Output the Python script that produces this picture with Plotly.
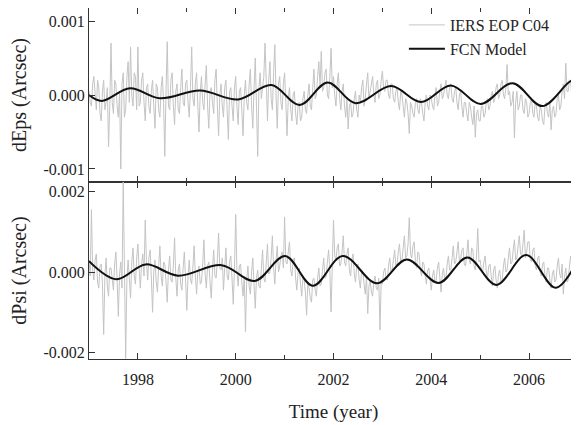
import numpy as np
import plotly.graph_objects as go
from plotly.subplots import make_subplots

# sampling of the observed series (years), 40 samples per year
obs_start = 1997.0
obs_step = 0.025

# IERS EOP C04 dEps, units of 1e-4 arcsec (one row per year)
eps_obs = [
    0.5, -1.0, -1.5, 1.5, 2.5, -0.5, -2.0, 2.0, 1.0, -2.5, -3.5, 0.5, 2.0, -2.0, -1.0, 1.0, -7.0, -1.5, 7.0, -1.0,
    -2.5, 2.0, 1.5, -1.5, -3.0, 0.5, -10.0, 1.5, 3.0, -3.0, -2.0, 2.5, 4.5, -1.0, 6.5, 0.0, -1.5, 3.0, 2.5, -2.0,
    6.5, -1.5, -1.0, 2.0, 3.0, -1.0, -3.5, 1.0, 1.5, -1.5, -2.5, 0.5, 2.0, -1.5, -4.5, 1.5, 1.0, -2.0, -3.0, 1.0,
    2.5, -1.0, -8.3, 0.5, 7.2, -1.5, -2.0, 2.0, 3.0, -1.5, -4.0, 0.5, 1.5, -2.0, -2.5, 1.0, 3.5, -1.0, -1.5, 1.5,
    2.0, -1.0, -3.0, 1.0, 6.5, -0.5, -1.5, 1.5, 3.0, -1.5, -5.0, 0.5, 2.5, -1.0, -2.0, 1.5, 4.0, -1.5, -4.5, 0.5,
    1.0, -1.0, -2.5, 2.0, 3.5, -1.5, -5.5, 0.0, 1.5, -1.5, -3.0, 1.0, 2.0, -2.0, -6.0, 0.5, 1.0, -1.5, -3.5, 1.0,
    2.5, -1.5, -4.0, 0.5, 1.0, -2.0, -5.5, 0.0, 2.0, -1.0, -2.0, 1.5, 3.5, -1.5, -4.5, 1.0, 5.0, -1.5, -8.3, 1.0,
    3.0, -0.5, 1.0, 2.5, 7.0, 0.5, -3.5, 2.0, 4.5, -0.5, -2.0, 3.0, 6.8, 0.0, -4.5, 1.5, 2.5, -1.0, -2.0, 1.5,
    3.0, -1.0, -5.5, -0.5, 1.0, -2.0, -3.5, 0.0, 0.5, -2.5, -4.0, -1.5, -1.0, -3.5, -3.0, -0.5, 0.5, -2.0, -2.5, 0.0,
    1.5, -1.5, -2.0, 1.0, 3.5, -0.5, 0.0, 2.5, 4.5, 1.0, 5.9, 0.5, 1.0, 3.0, 3.5, 0.0, -0.5, 2.5, 6.3, 1.0,
    2.5, 0.0, -1.5, 1.5, 3.0, -0.5, -2.0, 0.5, 1.5, -1.5, -3.0, -0.5, -4.6, -1.5, -1.0, -3.0, -2.5, -0.5, 0.5, -2.0,
    -3.0, 0.0, -1.0, 1.0, 2.0, -1.5, -0.5, 1.5, 3.0, -0.5, 0.5, 2.0, 2.5, 0.0, -1.0, 1.5, 2.0, -0.5, 0.0, 2.0,
    3.2, 1.0, 0.5, 2.0, 2.0, 0.0, -0.5, 1.5, 1.5, -0.5, -1.0, 0.5, 1.0, -1.0, -2.0, 0.5, 0.0, -1.5, -3.0, -0.5,
    -1.0, -2.5, -5.2, -1.0, -1.5, -2.5, -3.0, -1.0, -0.5, -2.0, -2.5, -0.5, -1.0, -2.5, -3.5, -1.0, 0.0, -1.5, -2.0, 0.0,
    -0.5, -1.5, -2.0, 0.0, 1.0, -1.5, -1.0, 0.5, 1.5, -0.5, 0.0, 1.0, 2.0, 0.0, -0.5, 1.0, 1.5, -0.5, -1.0, 0.5,
    1.0, -1.0, -2.0, 0.0, 0.5, -1.5, -3.0, -1.0, -1.0, -2.5, -3.5, -1.0, -1.5, -3.0, -4.0, -1.5, -5.7, -2.5, -2.0, -3.5,
    -3.5, -1.5, -1.5, -3.0, -2.5, -1.0, -0.5, -2.0, -1.5, 0.0, 0.5, -1.0, -0.5, 1.0, 1.5, -0.5, 0.0, 1.5, 2.0, 0.0,
    -0.5, 1.0, 4.1, 0.0, 0.5, -1.5, -1.0, 0.5, -5.8, -1.0, 0.5, -2.0, -1.5, 0.0, 0.0, -2.0, -2.5, -0.5, -1.0, -3.0,
    -2.5, -1.0, -0.5, -2.5, -3.0, -1.0, -1.5, -3.0, -3.5, -1.5, -2.0, -3.5, -4.0, -1.5, -1.0, -2.5, -3.0, -1.0, -4.7, -2.0,
    -1.5, -3.0, -2.5, -0.5, 0.0, -2.0, -1.5, 0.5, 1.5, -0.5, 4.3, 0.5, 0.5, 2.0, 2.0, -0.5, 0.0, 2.5, 1.5, 0.0,
]

# IERS EOP C04 dPsi, units of 1e-4 arcsec
psi_obs = [
    3.0, -1.0, 15.5, 0.5, -2.0, 3.0, 4.5, -2.5, -4.0, 1.5, 2.0, -3.0, -15.5, -1.0, 3.5, -3.5, -6.0, 1.0, 1.0, -2.5,
    -4.5, 2.0, 5.0, -2.0, -11.0, -0.5, 2.5, -4.0, 22.5, 1.0, -21.5, -2.0, 3.0, -1.5, -6.5, 2.5, 6.0, -1.0, -3.0, 3.5,
    7.0, 1.0, -4.0, 2.0, 4.5, -1.0, 12.9, 2.5, -2.0, 3.5, 5.5, -1.5, -10.0, 0.0, 3.0, -2.5, -5.0, 1.5, 6.5, -1.0,
    -3.5, 2.5, 2.0, -2.5, -7.5, 0.5, 4.0, -2.0, -2.5, 1.5, 8.5, -1.5, -6.0, 0.5, 2.0, -3.0, -4.5, 1.0, 5.0, -2.0,
    -9.5, -1.0, 3.0, -2.0, -3.0, 1.5, 6.5, -1.0, -5.5, 0.0, 1.5, -3.0, -2.5, 2.0, 8.0, -0.5, -4.0, 1.5, 2.5, -2.5,
    -6.5, 0.5, 5.5, -1.0, -1.5, 3.0, 9.7, 1.0, 0.5, 3.5, -4.5, 1.0, 6.0, -1.0, -2.0, 2.5, 4.0, -1.5, -8.0, 1.0,
    14.3, 0.5, -3.5, 1.5, 2.0, -2.5, -6.0, -1.0, -14.8, -2.0, 1.5, -3.5, -5.5, 0.0, 3.5, -3.0, -9.0, -1.5, 0.5, -3.5,
    -4.0, 1.0, 5.5, -1.5, -2.5, 2.5, 7.0, -0.5, 0.0, 3.5, 9.0, 1.0, -3.0, 3.0, 6.5, 0.0, 1.5, 4.0, 5.0, 1.0,
    13.7, 2.5, 2.0, 5.0, 7.5, 0.5, -1.0, 3.0, 3.5, -1.5, -4.5, 0.0, 1.0, -3.0, -6.0, -1.0, -2.0, -5.0, -10.7, -2.5,
    -4.0, -6.5, -7.5, -2.0, -1.5, -4.5, -6.0, -1.5, 1.0, -3.5, -3.0, 0.5, 3.5, -1.5, -1.0, 2.5, 5.5, 0.5, -9.9, 1.5,
    12.9, 4.0, 3.0, 6.0, 7.0, 1.5, 2.0, 5.0, 9.0, 2.5, 1.5, 4.5, 6.0, 0.5, -1.0, 3.0, 4.5, -0.5, -2.5, 1.5,
    2.0, -2.0, -4.0, 0.5, 0.0, -3.0, -5.5, -1.0, -10.3, -3.5, -2.0, -5.0, -6.0, -2.5, -1.0, -4.0, -4.5, -1.5, -14.4, -2.5,
    -3.0, 0.0, 1.0, -1.5, -2.0, 1.5, 3.5, 0.0, 0.5, 3.0, 5.5, 1.5, 2.0, 5.0, 7.0, 2.5, 3.0, 6.0, 9.0, 3.5,
    4.0, 7.0, 13.5, 4.5, 3.5, 6.5, 7.5, 2.5, 1.0, 5.0, 4.5, 0.5, -1.0, 2.5, 2.0, -1.0, -3.0, 0.5, 1.0, -2.0,
    -4.5, -1.0, 0.5, -2.5, -2.0, 1.0, 2.5, -1.5, -5.0, -0.5, 1.0, -2.0, -1.5, 2.0, 4.0, 0.5, 0.5, 3.5, 6.5, 2.0,
    2.5, 5.0, 7.5, 2.5, 3.0, 5.5, 6.0, 2.0, 1.5, 4.5, 8.0, 3.0, 2.0, 6.0, 5.5, 1.5, 0.5, 4.0, 10.8, 2.5,
    3.0, 0.5, 0.0, 2.5, 4.0, 0.0, -1.5, 1.5, 2.0, -1.0, -3.5, 0.5, 1.5, -2.0, -4.0, -0.5, 0.5, -2.5, -2.0, 1.5,
    3.5, 0.0, 0.5, 3.5, 6.0, 2.0, 2.5, 5.5, 8.0, 3.0, 3.5, 6.5, 9.0, 4.5, 4.0, 7.0, 10.4, 3.5, 5.0, 7.5,
    7.5, 3.0, 2.5, 5.5, 6.0, 1.5, 0.5, 3.5, 4.0, 0.0, -1.0, 2.0, 2.5, -1.0, -2.5, 1.0, 1.0, -2.0, -4.0, -0.5,
    0.5, -2.5, -2.0, 1.5, 3.5, -0.5, -1.5, 2.0, -5.5, -1.0, 1.0, -2.5, -2.0, 1.5, 4.0, 0.5, 1.5, 4.5, 7.0, 3.0,
]

# FCN model, turning points (year, 1e-4 arcsec)
eps_fcn_t = [1997.0, 1997.26, 1997.84, 1998.45, 1999.27, 2000.05, 2000.73, 2001.31, 2001.88,
             2002.45, 2003.18, 2003.79, 2004.40, 2005.01, 2005.66, 2006.27, 2006.86, 2007.0]
eps_fcn_v = [0.0, -0.8, 0.9, -0.45, 0.6, -0.6, 1.35, -1.35, 1.7,
             -1.1, 1.2, -0.95, 1.3, -1.2, 1.6, -1.5, 1.9, 1.7]

psi_fcn_t = [1997.0, 1997.56, 1998.16, 1998.82, 1999.71, 2000.39, 2001.01, 2001.58, 2002.19,
             2002.89, 2003.50, 2004.15, 2004.74, 2005.33, 2005.94, 2006.54, 2007.0]
psi_fcn_v = [2.7, -1.8, 1.9, -0.9, 1.7, -2.2, 4.0, -3.4, 4.0,
             -2.8, 3.1, -2.7, 3.6, -3.2, 4.2, -3.9, 3.1]

UNIT = 1e-4
t_eps = obs_start + obs_step * np.arange(len(eps_obs))
t_psi = obs_start + obs_step * np.arange(len(psi_obs))

FONT = "Liberation Serif, Times New Roman, serif"
GRAY = "#c4c4c4"
AX = "#333333"

# the page body has an 8px margin, so the figure is sized to fit inside the window
W, H = 571, 417
PLOT_H = 351
split = 177 / PLOT_H

fig = make_subplots(rows=2, cols=1, shared_xaxes=True, vertical_spacing=0)

fig.add_trace(go.Scatter(x=t_eps, y=np.array(eps_obs) * UNIT, mode="lines", name="IERS EOP C04",
                         line=dict(color=GRAY, width=1)), row=1, col=1)
fig.add_trace(go.Scatter(x=eps_fcn_t, y=np.array(eps_fcn_v) * UNIT, mode="lines", name="FCN Model",
                         line=dict(color="#111111", width=2, shape="spline", smoothing=1.0)), row=1, col=1)
fig.add_trace(go.Scatter(x=t_psi, y=np.array(psi_obs) * UNIT, mode="lines", showlegend=False,
                         line=dict(color=GRAY, width=1)), row=2, col=1)
fig.add_trace(go.Scatter(x=psi_fcn_t, y=np.array(psi_fcn_v) * UNIT, mode="lines", showlegend=False,
                         line=dict(color="#111111", width=2, shape="spline", smoothing=1.0)), row=2, col=1)

axis_common = dict(showline=True, linecolor=AX, linewidth=1, mirror="ticks", ticks="inside",
                   ticklen=6, tickcolor=AX, showgrid=False, zeroline=False,
                   tickfont=dict(family=FONT, size=16, color="#222"))

fig.update_xaxes(range=[1997, 2007], tickvals=[1998, 2000, 2002, 2004, 2006],
                 minor=dict(dtick=1, tick0=1997, ticks="inside", ticklen=4, tickcolor=AX),
                 **axis_common)
fig.update_xaxes(showticklabels=False, row=1, col=1)
fig.update_xaxes(title=dict(text="Time (year)", font=dict(family=FONT, size=19, color="#222"), standoff=17),
                 ticklabelstandoff=6, automargin=False, row=2, col=1)

fig.update_yaxes(range=[-0.001176, 0.001176], tickvals=[-0.001, 0, 0.001],
                 ticktext=["-0.001", "0.000", "0.001"], domain=[split, 1], automargin=False,
                 title=dict(text="dEps (Arcsec)", font=dict(family=FONT, size=20, color="#222"), standoff=13),
                 row=1, col=1, **axis_common)
fig.update_yaxes(range=[-0.00216, 0.002236], tickvals=[-0.002, 0, 0.002],
                 ticktext=["-0.002", "0.000", "0.002"], domain=[0, split], automargin=False,
                 title=dict(text="dPsi (Arcsec)", font=dict(family=FONT, size=20, color="#222"), standoff=13),
                 row=2, col=1, **axis_common)

fig.update_layout(
    width=W, height=H,
    margin=dict(l=81, r=1, t=0, b=H - PLOT_H),
    paper_bgcolor="white", plot_bgcolor="white",
    font=dict(family=FONT, color="#222"),
    legend=dict(x=0.644, y=1.0, xanchor="left", yanchor="top", bgcolor="rgba(0,0,0,0)",
                itemwidth=36, font=dict(family=FONT, size=16, color="#222"), tracegroupgap=0),
)

fig.write_html("out.html")
